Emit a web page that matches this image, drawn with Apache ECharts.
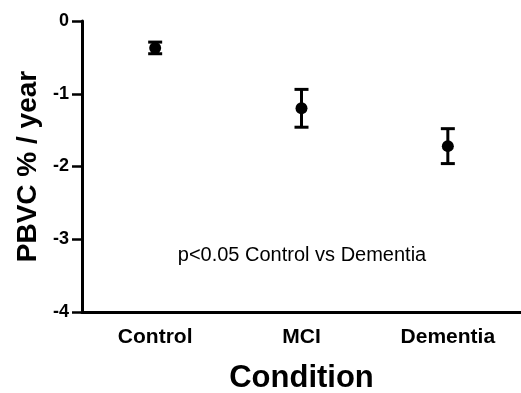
<!DOCTYPE html>
<html><head><meta charset="utf-8">
<script src="https://cdn.jsdelivr.net/npm/echarts@6/dist/echarts.min.js"></script>
<style>html,body{margin:0;padding:0;background:#fff}#c{width:521px;height:393px}</style>
</head><body><div id="c"></div>
<script>
var categories = ['Control', 'MCI', 'Dementia'];
var means = [-0.37, -1.20, -1.72];
var upper = [-0.29, -0.94, -1.48];
var lower = [-0.45, -1.46, -1.96];
var yTicks = [0, -1, -2, -3, -4];
var note = 'p<0.05 Control vs Dementia';

var chart = echarts.init(document.getElementById('c'));
var F = 'Liberation Sans, Arial, sans-serif';
chart.setOption({
  animation: false,
  grid: {left: 82, right: 0, top: 21, bottom: 81, containLabel: false, outerBoundsMode: 'none'},
  xAxis: {
    type: 'category', data: categories, boundaryGap: true,
    name: 'Condition', nameLocation: 'middle', nameGap: 51,
    nameTextStyle: {fontFamily: F, fontWeight: 'bold', fontSize: 31, color: '#000'},
    axisLine: {onZero: false, lineStyle: {color: '#000', width: 3}},
    axisTick: {alignWithLabel: true, length: 8, lineStyle: {color: '#000', width: 3}},
    axisLabel: {fontFamily: F, fontWeight: 'bold', fontSize: 21, color: '#000', margin: 15},
    splitLine: {show: false}
  },
  yAxis: {
    type: 'value', min: -4, max: 0, interval: 1,
    name: 'PBVC % / year', nameLocation: 'middle', nameGap: 40,
    nameTextStyle: {fontFamily: F, fontWeight: 'bold', fontSize: 28, color: '#000'},
    axisLine: {show: true, lineStyle: {color: '#000', width: 3}},
    axisTick: {show: true, length: 10, lineStyle: {color: '#000', width: 2.5}},
    axisLabel: {fontFamily: F, fontWeight: 'bold', fontSize: 18, color: '#000', margin: 13,
      formatter: function (v) { return yTicks.indexOf(v) >= 0 ? String(v) : ''; }},
    splitLine: {show: false}
  },
  graphic: [{
    type: 'text', x: 302, y: 255,
    style: {text: note, fontFamily: F, fontSize: 20, fill: '#000', align: 'center', verticalAlign: 'middle'}
  }],
  series: [{
    type: 'custom',
    data: categories.map(function (c, i) { return [i, lower[i], upper[i]]; }),
    renderItem: function (params, api) {
      var lo = api.coord([api.value(0), api.value(1)]);
      var hi = api.coord([api.value(0), api.value(2)]);
      var hw = 7;
      var st = {stroke: '#000', lineWidth: 3};
      return {type: 'group', children: [
        {type: 'line', shape: {x1: lo[0], y1: lo[1], x2: hi[0], y2: hi[1]}, style: st},
        {type: 'line', shape: {x1: lo[0] - hw, y1: lo[1], x2: lo[0] + hw, y2: lo[1]}, style: st},
        {type: 'line', shape: {x1: hi[0] - hw, y1: hi[1], x2: hi[0] + hw, y2: hi[1]}, style: st}
      ]};
    },
    z: 2
  }, {
    type: 'scatter', data: means, symbol: 'circle', symbolSize: 12,
    itemStyle: {color: '#000', opacity: 1}, z: 3
  }]
});
</script></body></html>
